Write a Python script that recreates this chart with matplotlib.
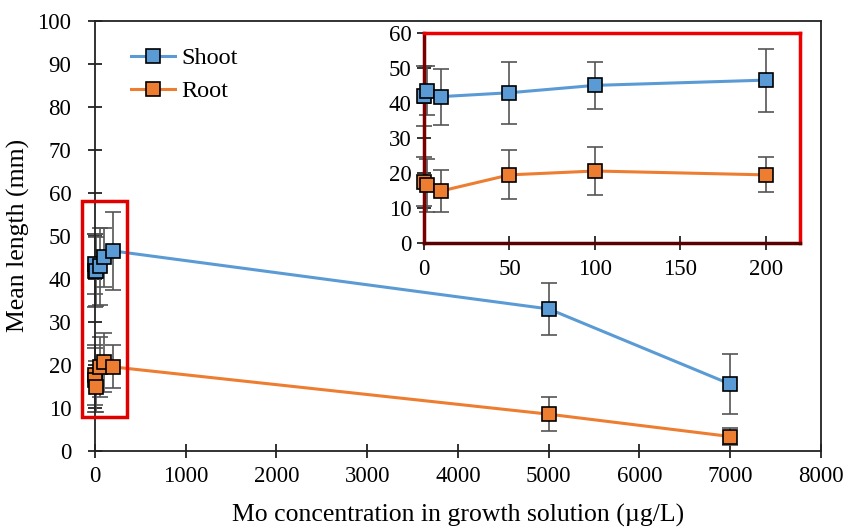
import matplotlib
matplotlib.use("Agg")
import matplotlib.pyplot as plt
from matplotlib.patches import Rectangle

plt.rcParams['font.family'] = ['Liberation Serif', 'DejaVu Serif']

conc = [0, 2, 10, 50, 100, 200, 5000, 7000]
shoot = [41.9, 43.5, 41.8, 42.9, 45.0, 46.5, 33.0, 15.5]
shoot_err = [8.5, 7.0, 8.0, 8.9, 6.8, 9.0, 6.0, 7.0]
root = [17.6, 16.5, 14.9, 19.5, 20.6, 19.5, 8.5, 3.3]
root_err = [7.0, 7.5, 6.0, 7.0, 6.9, 5.0, 4.0, 2.0]

inset_n = 6  # first six concentrations shown in the inset

blue = '#5B9BD5'
orange = '#ED7D31'
errc = '#555555'

fig = plt.figure(figsize=(8.46, 5.28), dpi=100)
ax = fig.add_axes([0.1123, 0.1464, 0.8581, 0.8136])

def draw(a, x, y, e, color, label=None):
    eb = a.errorbar(x, y, yerr=e, fmt='none', ecolor=errc, elinewidth=1.2,
                    capsize=6, capthick=1.2, zorder=2)
    for art in eb.lines[1] + eb.lines[2]:
        art.set_clip_on(False)
    a.plot(x, y, '-', color=color, lw=2.2, marker='s', ms=9.5,
           mfc=color, mec='black', mew=1.2, zorder=3, label=label,
           clip_on=False)

draw(ax, conc, shoot, shoot_err, blue, 'Shoot')
draw(ax, conc, root, root_err, orange, 'Root')

ax.set_xlim(0, 8000)
ax.set_ylim(0, 100)
ax.set_xticks(range(0, 8001, 1000))
ax.set_yticks(range(0, 101, 10))
for s in ax.spines.values():
    s.set_color('#222222')
    s.set_linewidth(1.3)
ax.tick_params(direction='inout', length=10, width=1.3, labelsize=16.5,
               color='#222222')
ax.tick_params(axis='y', pad=12)
ax.tick_params(axis='x', pad=6)
ax.set_xlabel('Mo concentration in growth solution (µg/L)', fontsize=18.5, labelpad=12)
ax.set_ylabel('Mean length (mm)', fontsize=18.5, labelpad=5)

ax.add_patch(Rectangle((-143, 7.8), 492, 50.3, fill=False, ec='#e00000',
                       lw=2.5, clip_on=False, zorder=5))

leg = ax.legend(loc='upper left', bbox_to_anchor=(0.02, 0.99), frameon=False,
                fontsize=17.5, handlelength=1.8, handletextpad=0.25, labelspacing=0.45)

ins = fig.add_axes([0.5012, 0.5392, 0.4444, 0.3988])
draw(ins, conc[:inset_n], shoot[:inset_n], shoot_err[:inset_n], blue)
draw(ins, conc[:inset_n], root[:inset_n], root_err[:inset_n], orange)
ins.set_xlim(0, 220)
ins.set_ylim(0, 60)
ins.set_xticks(range(0, 201, 50))
ins.set_yticks(range(0, 61, 10))
for k in ['top', 'right']:
    ins.spines[k].set_color('#ee0000')
    ins.spines[k].set_linewidth(2.5)
ins.spines['left'].set_color('#7a0000')
ins.spines['left'].set_linewidth(2.5)
ins.spines['bottom'].set_color('#5a0000')
ins.spines['bottom'].set_linewidth(2.5)
ins.tick_params(direction='inout', length=10, width=1.3, labelsize=16.5,
                color='#222222')
ins.tick_params(axis='y', pad=4)
ins.tick_params(axis='x', pad=6)
ins.patch.set_facecolor('white')

fig.savefig('out.png', dpi=100)
